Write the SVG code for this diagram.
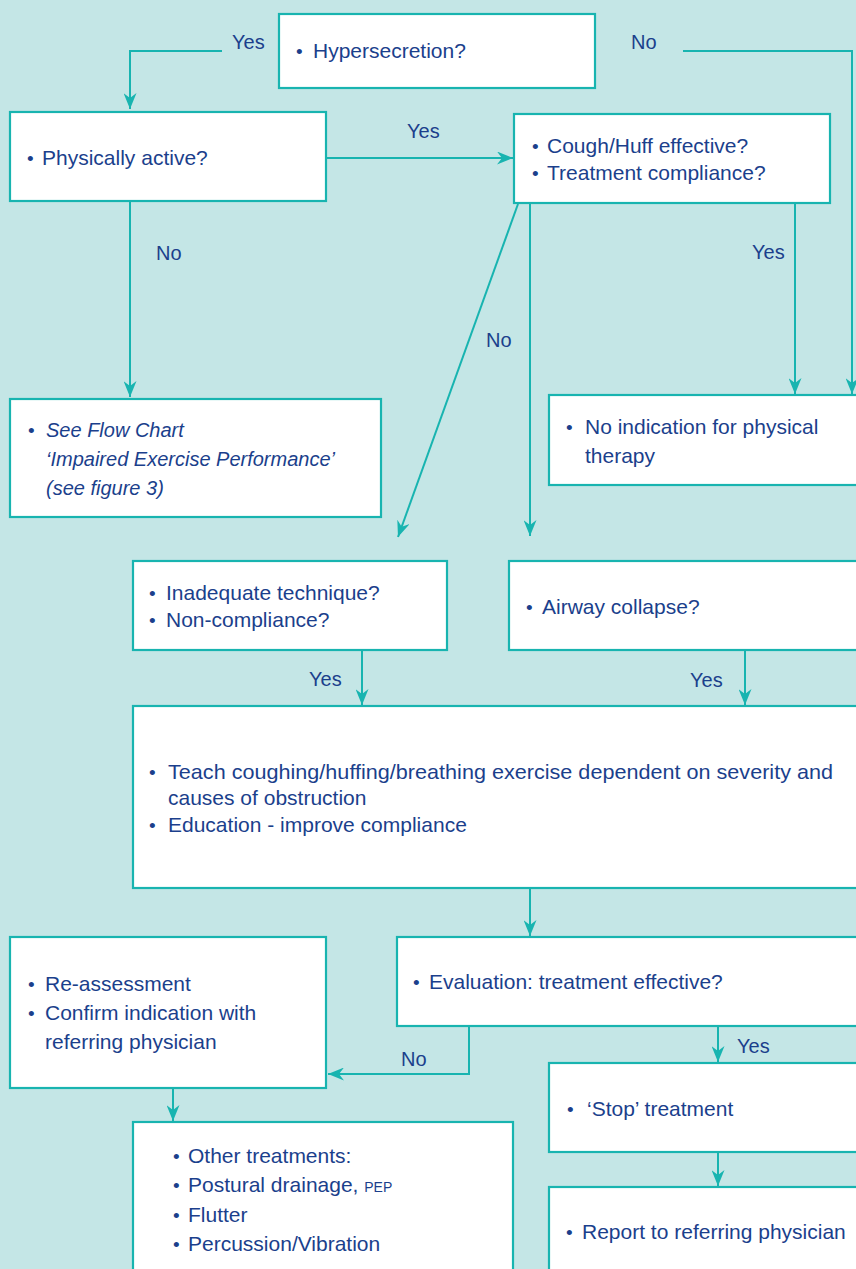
<svg xmlns="http://www.w3.org/2000/svg" width="856" height="1269" viewBox="0 0 856 1269">
<defs>
<style>
.bg{fill:#c4e6e6}
.box{fill:#ffffff;stroke:#18b4b0;stroke-width:2.2}
.ln{fill:none;stroke:#18b4b0;stroke-width:2}
text{font-family:"Liberation Sans",Arial,sans-serif;font-size:21px;fill:#1b3f8c}
.lbl{font-size:20px}
.bu{font-size:19px}
.it{font-style:italic;font-size:20px}
.sm{font-size:14px}
</style>
<marker id="ah" viewBox="0 0 16 13" refX="16" refY="6.5" markerWidth="16" markerHeight="13" markerUnits="userSpaceOnUse" orient="auto">
<path d="M0,0 L16,6.5 L0,13 L5,6.5 Z" fill="#18b4b0"/>
</marker>
</defs>
<rect class="bg" x="0" y="0" width="856" height="1269"/>

<g id="connectors">
<polyline class="ln" points="222,51 130,51 130,109" marker-end="url(#ah)"/>
<polyline class="ln" points="683,51 852,51 852,394" marker-end="url(#ah)"/>
<line class="ln" x1="326" y1="158" x2="513" y2="158" marker-end="url(#ah)"/>
<line class="ln" x1="130" y1="201" x2="130" y2="397" marker-end="url(#ah)"/>
<line class="ln" x1="795" y1="203" x2="795" y2="394" marker-end="url(#ah)"/>
<line class="ln" x1="518" y1="204" x2="398" y2="537" marker-end="url(#ah)"/>
<line class="ln" x1="530" y1="203" x2="530" y2="536" marker-end="url(#ah)"/>
<line class="ln" x1="362" y1="650" x2="362" y2="705" marker-end="url(#ah)"/>
<line class="ln" x1="745" y1="650" x2="745" y2="705" marker-end="url(#ah)"/>
<line class="ln" x1="530" y1="888" x2="530" y2="936" marker-end="url(#ah)"/>
<polyline class="ln" points="469,1026 469,1074 328,1074" marker-end="url(#ah)"/>
<line class="ln" x1="718" y1="1026" x2="718" y2="1062" marker-end="url(#ah)"/>
<line class="ln" x1="173" y1="1088" x2="173" y2="1121" marker-end="url(#ah)"/>
<line class="ln" x1="718" y1="1152" x2="718" y2="1186" marker-end="url(#ah)"/>
<text class="lbl" x="232" y="49">Yes</text>
<text class="lbl" x="631" y="49">No</text>
<text class="lbl" x="407" y="138">Yes</text>
<text class="lbl" x="156" y="260">No</text>
<text class="lbl" x="752" y="259">Yes</text>
<text class="lbl" x="486" y="347">No</text>
<text class="lbl" x="309" y="686">Yes</text>
<text class="lbl" x="690" y="687">Yes</text>
<text class="lbl" x="401" y="1066">No</text>
<text class="lbl" x="737" y="1053">Yes</text>
</g>

<g id="n-hyper">
<rect class="box" x="279" y="14" width="316" height="74"/>
<text class="bu" x="296" y="58">•</text><text x="313" y="58">Hypersecretion?</text>
</g>
<g id="n-active">
<rect class="box" x="10" y="112" width="316" height="89"/>
<text class="bu" x="27" y="165">•</text><text x="42" y="165">Physically active?</text>
</g>
<g id="n-cough">
<rect class="box" x="514" y="114" width="316" height="89"/>
<text class="bu" x="532" y="153">•</text><text x="547" y="153">Cough/Huff effective?</text>
<text class="bu" x="532" y="180">•</text><text x="547" y="180">Treatment compliance?</text>
</g>
<g id="n-seeflow">
<rect class="box" x="10" y="399" width="371" height="118"/>
<text class="bu" x="28" y="437">•</text><text class="it" x="46" y="437">See Flow Chart</text>
<text class="it" x="46" y="466">‘Impaired Exercise Performance’</text>
<text class="it" x="46" y="495">(see figure 3)</text>
</g>
<g id="n-noind">
<rect class="box" x="549" y="395" width="320" height="90"/>
<text class="bu" x="566" y="434">•</text><text x="585" y="434">No indication for physical</text>
<text x="585" y="463">therapy</text>
</g>
<g id="n-inadequate">
<rect class="box" x="133" y="561" width="314" height="89"/>
<text class="bu" x="149" y="600">•</text><text x="166" y="600">Inadequate technique?</text>
<text class="bu" x="149" y="627">•</text><text x="166" y="627">Non-compliance?</text>
</g>
<g id="n-airway">
<rect class="box" x="509" y="561" width="360" height="89"/>
<text class="bu" x="526" y="614">•</text><text x="542" y="614">Airway collapse?</text>
</g>
<g id="n-teach">
<rect class="box" x="133" y="706" width="736" height="182"/>
<text class="bu" x="149" y="779">•</text><text x="168" y="779" textLength="665" lengthAdjust="spacingAndGlyphs">Teach coughing/huffing/breathing exercise dependent on severity and</text>
<text x="168" y="805">causes of obstruction</text>
<text class="bu" x="149" y="832">•</text><text x="168" y="832">Education - improve compliance</text>
</g>
<g id="n-reassess">
<rect class="box" x="10" y="937" width="316" height="151"/>
<text class="bu" x="28" y="991">•</text><text x="45" y="991">Re-assessment</text>
<text class="bu" x="28" y="1020">•</text><text x="45" y="1020">Confirm indication with</text>
<text x="45" y="1049">referring physician</text>
</g>
<g id="n-eval">
<rect class="box" x="397" y="937" width="472" height="89"/>
<text class="bu" x="413" y="989">•</text><text x="429" y="989">Evaluation: treatment effective?</text>
</g>
<g id="n-other">
<rect class="box" x="133" y="1122" width="380" height="160"/>
<text class="bu" x="173" y="1163">•</text><text x="188" y="1163">Other treatments:</text>
<text class="bu" x="173" y="1192">•</text><text x="188" y="1192">Postural drainage, <tspan class="sm">PEP</tspan></text>
<text class="bu" x="173" y="1222">•</text><text x="188" y="1222">Flutter</text>
<text class="bu" x="173" y="1251">•</text><text x="188" y="1251">Percussion/Vibration</text>
</g>
<g id="n-stop">
<rect class="box" x="549" y="1063" width="320" height="89"/>
<text class="bu" x="567" y="1116">•</text><text x="587" y="1116">‘Stop’ treatment</text>
</g>
<g id="n-report">
<rect class="box" x="549" y="1187" width="320" height="95"/>
<text class="bu" x="566" y="1239">•</text><text x="582" y="1239">Report to referring physician</text>
</g>
</svg>
